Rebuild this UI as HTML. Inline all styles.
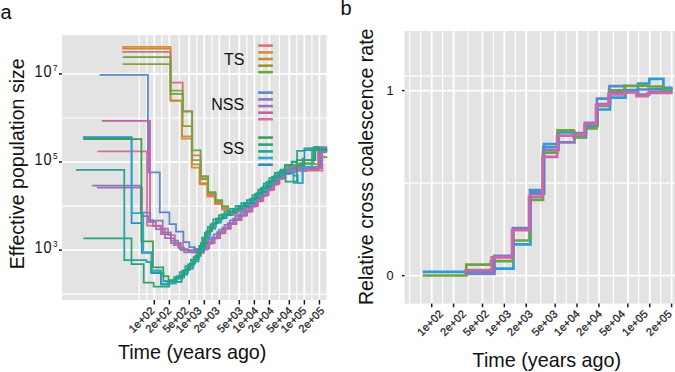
<!DOCTYPE html>
<html><head><meta charset="utf-8"><style>
html,body{margin:0;padding:0;background:#fff;width:675px;height:372px;overflow:hidden}
svg{display:block}
text{font-family:"Liberation Sans",sans-serif}
</style></head><body>
<svg width="675" height="372" viewBox="0 0 675 372">
<defs>
<clipPath id="ca"><rect x="62" y="35" width="265.2" height="265"/></clipPath>
<clipPath id="cb"><rect x="404.5" y="31" width="271.5" height="272.6"/></clipPath>
</defs>
<rect x="62" y="35" width="265.2" height="265" fill="#E3E3E3"/>
<g clip-path="url(#ca)">
<line x1="139.24" y1="35" x2="139.24" y2="300" stroke="#fff" stroke-width="1.15"/>
<line x1="146.77" y1="35" x2="146.77" y2="300" stroke="#fff" stroke-width="1.15"/>
<line x1="154.30" y1="35" x2="154.30" y2="300" stroke="#fff" stroke-width="1.15"/>
<line x1="161.83" y1="35" x2="161.83" y2="300" stroke="#fff" stroke-width="1.15"/>
<line x1="169.36" y1="35" x2="169.36" y2="300" stroke="#fff" stroke-width="1.15"/>
<line x1="179.31" y1="35" x2="179.31" y2="300" stroke="#fff" stroke-width="1.15"/>
<line x1="189.27" y1="35" x2="189.27" y2="300" stroke="#fff" stroke-width="1.15"/>
<line x1="196.80" y1="35" x2="196.80" y2="300" stroke="#fff" stroke-width="1.15"/>
<line x1="204.33" y1="35" x2="204.33" y2="300" stroke="#fff" stroke-width="1.15"/>
<line x1="211.86" y1="35" x2="211.86" y2="300" stroke="#fff" stroke-width="1.15"/>
<line x1="219.39" y1="35" x2="219.39" y2="300" stroke="#fff" stroke-width="1.15"/>
<line x1="229.35" y1="35" x2="229.35" y2="300" stroke="#fff" stroke-width="1.15"/>
<line x1="239.30" y1="35" x2="239.30" y2="300" stroke="#fff" stroke-width="1.15"/>
<line x1="246.83" y1="35" x2="246.83" y2="300" stroke="#fff" stroke-width="1.15"/>
<line x1="254.36" y1="35" x2="254.36" y2="300" stroke="#fff" stroke-width="1.15"/>
<line x1="261.89" y1="35" x2="261.89" y2="300" stroke="#fff" stroke-width="1.15"/>
<line x1="269.42" y1="35" x2="269.42" y2="300" stroke="#fff" stroke-width="1.15"/>
<line x1="279.38" y1="35" x2="279.38" y2="300" stroke="#fff" stroke-width="1.15"/>
<line x1="289.33" y1="35" x2="289.33" y2="300" stroke="#fff" stroke-width="1.15"/>
<line x1="296.86" y1="35" x2="296.86" y2="300" stroke="#fff" stroke-width="1.15"/>
<line x1="304.39" y1="35" x2="304.39" y2="300" stroke="#fff" stroke-width="1.15"/>
<line x1="311.92" y1="35" x2="311.92" y2="300" stroke="#fff" stroke-width="1.15"/>
<line x1="319.45" y1="35" x2="319.45" y2="300" stroke="#fff" stroke-width="1.15"/>
<line x1="326.98" y1="35" x2="326.98" y2="300" stroke="#fff" stroke-width="1.15"/>
<line x1="334.51" y1="35" x2="334.51" y2="300" stroke="#fff" stroke-width="1.15"/>
<line x1="62" y1="294.15" x2="327.2" y2="294.15" stroke="#fff" stroke-width="1.15"/>
<line x1="62" y1="206.05" x2="327.2" y2="206.05" stroke="#fff" stroke-width="1.15"/>
<line x1="62" y1="117.95" x2="327.2" y2="117.95" stroke="#fff" stroke-width="1.15"/>
<line x1="62" y1="250.10" x2="327.2" y2="250.10" stroke="#fff" stroke-width="1.75"/>
<line x1="62" y1="162.00" x2="327.2" y2="162.00" stroke="#fff" stroke-width="1.75"/>
<line x1="62" y1="73.90" x2="327.2" y2="73.90" stroke="#fff" stroke-width="1.75"/>
<line x1="154.30" y1="35" x2="154.30" y2="300" stroke="#fff" stroke-width="1.75"/>
<line x1="169.36" y1="35" x2="169.36" y2="300" stroke="#fff" stroke-width="1.75"/>
<line x1="189.27" y1="35" x2="189.27" y2="300" stroke="#fff" stroke-width="1.75"/>
<line x1="204.33" y1="35" x2="204.33" y2="300" stroke="#fff" stroke-width="1.75"/>
<line x1="219.39" y1="35" x2="219.39" y2="300" stroke="#fff" stroke-width="1.75"/>
<line x1="239.30" y1="35" x2="239.30" y2="300" stroke="#fff" stroke-width="1.75"/>
<line x1="254.36" y1="35" x2="254.36" y2="300" stroke="#fff" stroke-width="1.75"/>
<line x1="269.42" y1="35" x2="269.42" y2="300" stroke="#fff" stroke-width="1.75"/>
<line x1="289.33" y1="35" x2="289.33" y2="300" stroke="#fff" stroke-width="1.75"/>
<line x1="304.39" y1="35" x2="304.39" y2="300" stroke="#fff" stroke-width="1.75"/>
<line x1="319.45" y1="35" x2="319.45" y2="300" stroke="#fff" stroke-width="1.75"/>
<path d="M122.1 46.9H170.5V100.3H182.0V138.7H191.8V167.6H199.7V184.3H207.5V196.5H215.0V204.0H222.0V209.5H228.0V214.5H234.6V211.5H240.2V208.6H245.8V205.7H251.4V201.0H257.0V195.7H262.6V189.8H268.2V184.1H273.8V178.8H279.4V173.9H285.0V169.8H290.6V167.5H296.2V166.1H300.0V168.2H318.5V150.5H327.5" fill="none" stroke="#DE8A33" stroke-width="1.75"/>
<path d="M122.1 48.6H170.5V100.9H182.0V136.3H191.8V164.3H199.7V183.0H207.5V195.0H215.0V203.0H222.0V208.5H228.0V213.3H235.6V210.0H241.2V207.0H246.8V204.2H252.4V199.1H258.0V193.7H263.6V187.8H269.2V182.1H274.8V176.9H280.4V172.0H286.0V168.2H291.6V166.2H297.2V164.9H300.0V167.8H318.5V149.5H327.5" fill="none" stroke="#C68F2E" stroke-width="1.75"/>
<path d="M122.1 51.8H170.5V82.7H182.7V111.0H192.2V155.3H200.6V179.4H208.1V194.8H215.5V202.0H222.2V208.0H228.2V214.5H236.8V210.9H242.4V207.9H248.0V204.7H253.6V199.4H259.2V193.9H264.8V188.0H270.4V182.5H276.0V177.3H281.6V172.5H287.2V169.0H292.8V167.3H298.4V166.2H300.0V168.5H318.5V151.0H327.5" fill="none" stroke="#E07272" stroke-width="1.75"/>
<path d="M122.7 64.2H170.5V90.6H182.7V126.0H192.2V160.0H200.6V178.0H208.1V193.0H215.5V201.0H222.2V207.0H228.2V213.2H233.8V210.5H239.4V207.5H245.0V204.6H250.6V200.3H256.2V195.0H261.8V189.2H267.4V183.3H273.0V178.1H278.6V173.1H284.2V168.8H289.8V166.2H295.4V164.7H300.0V164.0H322.0V157.2H327.5" fill="none" stroke="#999A36" stroke-width="1.75"/>
<path d="M122.7 57.1H170.5V93.8H182.7V111.5H192.2V150.4H200.6V176.1H208.1V192.1H215.5V200.2H222.2V206.2H228.2V211.8H235.3V208.7H240.9V205.7H246.5V202.9H252.1V197.8H257.7V192.5H263.3V186.6H268.9V180.9H274.5V175.7H280.1V170.8H285.7V166.9H291.3V164.8H296.9V163.5H300.0V163.0H313.7V150.0H318.6V157.0H327.5" fill="none" stroke="#6AA63F" stroke-width="1.75"/>
<path d="M99.6 74.9H147.9V172.4H159.8V212.4H169.4V224.2H176.0V231.6H183.4V242.0H189.3V247.0H195.0V250.0H200.9V247.5H206.3V242.4H211.7V237.3H217.1V232.2H222.5V227.6H227.9V223.0H233.3V218.7H238.7V214.4H244.1V210.4H249.5V205.5H254.9V200.3H260.3V194.8H265.7V189.2H271.1V183.5H276.5V177.8H281.9V172.4H287.3V169.5H292.7V168.1H298.1V166.9H303.0V168.0H306.0V166.9H320.2V150.0H324.5V150.0H327.5" fill="none" stroke="#5C87C8" stroke-width="1.75"/>
<path d="M97.5 151.3H147.0V225.7H160.5V228.6H168.0V235.0H175.0V243.0H183.0V250.0H192.0V252.3H200.0V249.7H207.9V243.4H213.3V238.3H218.7V233.3H224.1V228.7H229.5V224.2H234.9V219.9H240.3V215.7H245.7V211.6H251.1V206.4H256.5V201.3H261.9V195.7H267.3V190.0H272.7V184.3H278.1V178.7H283.5V173.9H288.9V171.6H294.3V170.2H299.7V169.3H303.0V169.0H306.2V170.6H322.3V151.0H327.5" fill="none" stroke="#D86C9C" stroke-width="1.75"/>
<path d="M101.9 120.9H150.0V220.0H153.0V226.0H161.0V234.0H171.0V243.0H180.0V249.0H188.0V251.0H197.0V252.9H203.9V248.2H209.3V243.1H214.7V238.0H220.1V233.1H225.5V228.5H230.9V224.1H236.3V219.8H241.7V215.7H247.1V211.3H252.5V206.1H257.9V200.9H263.3V195.2H268.7V189.5H274.1V183.8H279.5V178.3H284.9V174.2H290.3V172.2H295.7V170.9H301.1V170.2H303.0V171.0H306.0V169.7H318.6V152.0H327.5" fill="none" stroke="#C262A0" stroke-width="1.75"/>
<path d="M92.1 185.5H140.6V212.5H150.2V220.5H162.7V232.3H170.8V240.5H178.2V247.8H184.1V252.3H194.0V248.9H202.9V244.6H208.3V239.6H213.7V234.4H219.1V229.5H224.5V224.9H229.9V220.4H235.3V216.1H240.7V211.9H246.1V207.7H251.5V202.6H256.9V197.4H262.3V191.7H267.7V186.1H273.1V180.3H278.5V174.8H283.9V170.2H289.3V168.0H294.7V166.6H300.1V165.8H303.0V167.0H306.0V166.9H320.2V147.0H327.5" fill="none" stroke="#8A78BC" stroke-width="1.75"/>
<path d="M97.0 187.6H141.9V216.0H148.5V222.0H156.0V229.0H165.0V238.0H174.0V245.0H181.0V250.0H190.0V250.7H195.4V251.0H200.8V248.6H206.2V243.5H211.6V238.4H217.0V233.3H222.4V228.7H227.8V224.1H233.2V219.8H238.6V215.5H244.0V211.5H249.4V206.6H254.8V201.4H260.2V196.0H265.6V190.3H271.0V184.6H276.4V178.9H281.8V173.5H287.2V170.5H292.6V169.2H298.0V167.9H303.0V169.0H306.0V168.0H321.8V148.0H327.5" fill="none" stroke="#A070B8" stroke-width="1.75"/>
<path d="M148.8 121.5V172.3" fill="none" stroke="#A070B8" stroke-width="2.2"/>
<path d="M83.0 137.1H131.6V223.2H141.8V252.8H151.5V273.0H163.4V281.0H172.0V281.8H181.6V274.6H187.2V268.5H192.8V261.4H198.4V250.8H204.0V237.8H209.6V228.5H215.2V222.5H220.8V218.1H226.4V215.0H232.0V212.4H237.6V209.4H243.2V206.5H248.8V203.0H254.4V197.7H260.0V192.1H265.6V186.2H271.2V180.8H276.8V175.8H282.0V173.0H293.5V175.6H297.7V182.9H302.6V158.7H304.4V150.0H316.0V149.0H327.5" fill="none" stroke="#2A8FC6" stroke-width="1.75"/>
<path d="M83.0 138.7H131.6V213.1H143.2V252.1H151.8V270.3H161.0V283.6H175.8V278.8H182.4V272.8H188.0V266.6H193.6V259.2H199.2V248.0H204.8V234.9H210.4V226.5H216.0V220.9H221.6V216.5H227.2V213.7H232.8V211.0H238.4V208.0H244.0V205.1H249.6V201.2H255.2V195.9H260.8V190.2H266.4V184.3H272.0V179.0H277.6V174.5H282.0V172.0H293.5V182.9H302.6V167.0H312.0V148.0H323.5V151.0H327.5" fill="none" stroke="#28A8D0" stroke-width="1.75"/>
<path d="M83.5 139.0H141.4V241.4H153.0V267.3H163.3V276.2H168.5V280.0H175.0V277.4H184.1V270.1H189.7V263.6H195.3V255.8H200.9V243.0H206.5V231.1H212.1V223.4H217.7V218.6H223.3V214.5H228.9V211.9H234.5V209.1H240.1V206.1H245.7V203.3H251.3V198.6H256.9V193.3H262.5V187.4H268.1V181.7H273.7V176.4H279.3V172.7H282.0V172.0H285.0V165.0H291.7V162.0H297.1V160.0H304.0V160.0H313.7V147.2H318.6V149.0H327.5" fill="none" stroke="#3A9F4E" stroke-width="1.75"/>
<path d="M83.5 238.4H131.5V264.2H143.7V282.5H153.7V286.6H169.2V281.9H176.8V276.2H182.4V270.6H188.0V264.4H193.6V257.0H199.2V245.8H204.8V232.7H210.4V224.3H216.0V218.7H221.6V214.3H227.2V211.5H232.8V208.8H238.4V205.8H244.0V202.9H249.6V199.0H255.2V193.7H260.8V188.0H266.4V182.1H272.0V176.8H277.6V172.3H282.0V170.0H285.5V181.7H297.0V165.0H304.4V160.0H315.4V147.0H318.6V150.0H327.5" fill="none" stroke="#2CA274" stroke-width="1.75"/>
<path d="M76.0 169.9H124.3V260.2H146.5V262.0H151.0V272.0H161.0V284.5H168.0V281.6H174.1V277.2H179.7V272.0H185.3V266.2H190.9V259.5H196.5V250.6H202.1V237.7H207.7V226.8H213.3V219.4H218.9V215.1H224.5V211.4H230.1V208.8H235.7V205.9H241.3V203.0H246.9V200.2H252.5V195.0H258.1V189.6H263.7V183.7H269.3V178.0H274.9V172.8H280.5V169.7H282.0V170.0H285.0V164.8H291.7V161.7H297.1V150.9H304.4V148.4H316.0V150.0H327.5" fill="none" stroke="#22A596" stroke-width="1.75"/>
</g>
<line x1="154.30" y1="300" x2="154.30" y2="304.5" stroke="#1a1a1a" stroke-width="1.5"/>
<text transform="translate(155.30,311.5) rotate(-45)" text-anchor="end" font-size="11.1" fill="#222" stroke="#222" stroke-width="0.25">1e+02</text>
<line x1="169.36" y1="300" x2="169.36" y2="304.5" stroke="#1a1a1a" stroke-width="1.5"/>
<text transform="translate(172.10,311.5) rotate(-45)" text-anchor="end" font-size="11.1" fill="#222" stroke="#222" stroke-width="0.25">2e+02</text>
<line x1="189.27" y1="300" x2="189.27" y2="304.5" stroke="#1a1a1a" stroke-width="1.5"/>
<text transform="translate(189.20,311.5) rotate(-45)" text-anchor="end" font-size="11.1" fill="#222" stroke="#222" stroke-width="0.25">5e+02</text>
<line x1="204.33" y1="300" x2="204.33" y2="304.5" stroke="#1a1a1a" stroke-width="1.5"/>
<text transform="translate(202.40,311.5) rotate(-45)" text-anchor="end" font-size="11.1" fill="#222" stroke="#222" stroke-width="0.25">1e+03</text>
<line x1="219.39" y1="300" x2="219.39" y2="304.5" stroke="#1a1a1a" stroke-width="1.5"/>
<text transform="translate(220.30,311.5) rotate(-45)" text-anchor="end" font-size="11.1" fill="#222" stroke="#222" stroke-width="0.25">2e+03</text>
<line x1="239.30" y1="300" x2="239.30" y2="304.5" stroke="#1a1a1a" stroke-width="1.5"/>
<text transform="translate(243.60,311.5) rotate(-45)" text-anchor="end" font-size="11.1" fill="#222" stroke="#222" stroke-width="0.25">5e+03</text>
<line x1="254.36" y1="300" x2="254.36" y2="304.5" stroke="#1a1a1a" stroke-width="1.5"/>
<text transform="translate(259.10,311.5) rotate(-45)" text-anchor="end" font-size="11.1" fill="#222" stroke="#222" stroke-width="0.25">1e+04</text>
<line x1="269.42" y1="300" x2="269.42" y2="304.5" stroke="#1a1a1a" stroke-width="1.5"/>
<text transform="translate(274.60,311.5) rotate(-45)" text-anchor="end" font-size="11.1" fill="#222" stroke="#222" stroke-width="0.25">2e+04</text>
<line x1="289.33" y1="300" x2="289.33" y2="304.5" stroke="#1a1a1a" stroke-width="1.5"/>
<text transform="translate(293.00,311.5) rotate(-45)" text-anchor="end" font-size="11.1" fill="#222" stroke="#222" stroke-width="0.25">5e+04</text>
<line x1="304.39" y1="300" x2="304.39" y2="304.5" stroke="#1a1a1a" stroke-width="1.5"/>
<text transform="translate(307.20,311.5) rotate(-45)" text-anchor="end" font-size="11.1" fill="#222" stroke="#222" stroke-width="0.25">1e+05</text>
<line x1="319.45" y1="300" x2="319.45" y2="304.5" stroke="#1a1a1a" stroke-width="1.5"/>
<text transform="translate(325.10,311.5) rotate(-45)" text-anchor="end" font-size="11.1" fill="#222" stroke="#222" stroke-width="0.25">2e+05</text>
<line x1="59" y1="250.10" x2="62" y2="250.10" stroke="#1a1a1a" stroke-width="1.5"/>
<text transform="translate(34.6,253.00) scale(0.84,1)" font-size="17.3" fill="#111" letter-spacing="0.9">10<tspan font-size="9.6" letter-spacing="0" dx="0.9" dy="-5.6">3</tspan></text>
<line x1="59" y1="162.00" x2="62" y2="162.00" stroke="#1a1a1a" stroke-width="1.5"/>
<text transform="translate(34.6,164.90) scale(0.84,1)" font-size="17.3" fill="#111" letter-spacing="0.9">10<tspan font-size="9.6" letter-spacing="0" dx="0.9" dy="-5.6">5</tspan></text>
<line x1="59" y1="73.90" x2="62" y2="73.90" stroke="#1a1a1a" stroke-width="1.5"/>
<text transform="translate(34.6,76.80) scale(0.84,1)" font-size="17.3" fill="#111" letter-spacing="0.9">10<tspan font-size="9.6" letter-spacing="0" dx="0.9" dy="-5.6">7</tspan></text>
<rect x="404.5" y="31" width="271.5" height="272.6" fill="#E3E3E3"/>
<g clip-path="url(#cb)">
<line x1="409.82" y1="31" x2="409.82" y2="303.6" stroke="#fff" stroke-width="1.15"/>
<line x1="420.76" y1="31" x2="420.76" y2="303.6" stroke="#fff" stroke-width="1.15"/>
<line x1="431.70" y1="31" x2="431.70" y2="303.6" stroke="#fff" stroke-width="1.15"/>
<line x1="442.64" y1="31" x2="442.64" y2="303.6" stroke="#fff" stroke-width="1.15"/>
<line x1="453.58" y1="31" x2="453.58" y2="303.6" stroke="#fff" stroke-width="1.15"/>
<line x1="468.03" y1="31" x2="468.03" y2="303.6" stroke="#fff" stroke-width="1.15"/>
<line x1="482.49" y1="31" x2="482.49" y2="303.6" stroke="#fff" stroke-width="1.15"/>
<line x1="493.43" y1="31" x2="493.43" y2="303.6" stroke="#fff" stroke-width="1.15"/>
<line x1="504.37" y1="31" x2="504.37" y2="303.6" stroke="#fff" stroke-width="1.15"/>
<line x1="515.31" y1="31" x2="515.31" y2="303.6" stroke="#fff" stroke-width="1.15"/>
<line x1="526.25" y1="31" x2="526.25" y2="303.6" stroke="#fff" stroke-width="1.15"/>
<line x1="540.70" y1="31" x2="540.70" y2="303.6" stroke="#fff" stroke-width="1.15"/>
<line x1="555.16" y1="31" x2="555.16" y2="303.6" stroke="#fff" stroke-width="1.15"/>
<line x1="566.10" y1="31" x2="566.10" y2="303.6" stroke="#fff" stroke-width="1.15"/>
<line x1="577.04" y1="31" x2="577.04" y2="303.6" stroke="#fff" stroke-width="1.15"/>
<line x1="587.98" y1="31" x2="587.98" y2="303.6" stroke="#fff" stroke-width="1.15"/>
<line x1="598.92" y1="31" x2="598.92" y2="303.6" stroke="#fff" stroke-width="1.15"/>
<line x1="613.38" y1="31" x2="613.38" y2="303.6" stroke="#fff" stroke-width="1.15"/>
<line x1="627.83" y1="31" x2="627.83" y2="303.6" stroke="#fff" stroke-width="1.15"/>
<line x1="638.77" y1="31" x2="638.77" y2="303.6" stroke="#fff" stroke-width="1.15"/>
<line x1="649.71" y1="31" x2="649.71" y2="303.6" stroke="#fff" stroke-width="1.15"/>
<line x1="660.65" y1="31" x2="660.65" y2="303.6" stroke="#fff" stroke-width="1.15"/>
<line x1="671.59" y1="31" x2="671.59" y2="303.6" stroke="#fff" stroke-width="1.15"/>
<line x1="682.52" y1="31" x2="682.52" y2="303.6" stroke="#fff" stroke-width="1.15"/>
<line x1="693.46" y1="31" x2="693.46" y2="303.6" stroke="#fff" stroke-width="1.15"/>
<line x1="404.5" y1="183.15" x2="676" y2="183.15" stroke="#fff" stroke-width="1.15"/>
<line x1="404.5" y1="76.16" x2="676" y2="76.16" stroke="#fff" stroke-width="1.15"/>
<line x1="404.5" y1="275.70" x2="676" y2="275.70" stroke="#fff" stroke-width="1.75"/>
<line x1="404.5" y1="90.60" x2="676" y2="90.60" stroke="#fff" stroke-width="1.75"/>
<line x1="431.70" y1="31" x2="431.70" y2="303.6" stroke="#fff" stroke-width="1.75"/>
<line x1="453.58" y1="31" x2="453.58" y2="303.6" stroke="#fff" stroke-width="1.75"/>
<line x1="482.49" y1="31" x2="482.49" y2="303.6" stroke="#fff" stroke-width="1.75"/>
<line x1="504.37" y1="31" x2="504.37" y2="303.6" stroke="#fff" stroke-width="1.75"/>
<line x1="526.25" y1="31" x2="526.25" y2="303.6" stroke="#fff" stroke-width="1.75"/>
<line x1="555.16" y1="31" x2="555.16" y2="303.6" stroke="#fff" stroke-width="1.75"/>
<line x1="577.04" y1="31" x2="577.04" y2="303.6" stroke="#fff" stroke-width="1.75"/>
<line x1="598.92" y1="31" x2="598.92" y2="303.6" stroke="#fff" stroke-width="1.75"/>
<line x1="627.83" y1="31" x2="627.83" y2="303.6" stroke="#fff" stroke-width="1.75"/>
<line x1="649.71" y1="31" x2="649.71" y2="303.6" stroke="#fff" stroke-width="1.75"/>
<line x1="671.59" y1="31" x2="671.59" y2="303.6" stroke="#fff" stroke-width="1.75"/>
<path d="M464.6 272.6H494.0V256.8H513.0V228.2H530.0V190.2H543.5V147.2H558.0V131.0H574.0V133.0H585.5V122.8H597.0V98.7H609.5V86.2H625.0V90.0H637.5V89.5H648.9V89.3H662.9V89.6H672.6" fill="none" stroke="#5C87C8" stroke-width="2.7"/>
<path d="M422.7 271.8H465.6V271.0H494.5V268.7H513.5V244.3H530.5V192.4H544.0V144.0H558.5V132.5H574.5V137.5H586.0V126.0H597.5V109.5H610.0V97.6H625.5V90.5H638.0V83.5H649.4V78.9H663.4V87.8H672.6" fill="none" stroke="#2E9AD8" stroke-width="2.7"/>
<path d="M422.7 275.5H466.3V264.6H490.8V261.2H512.5V240.5H529.5V199.9H543.0V152.6H557.5V130.3H573.5V137.0H585.0V128.3H596.5V106.0H609.0V90.4H624.5V85.8H637.0V85.6H648.4V86.5H662.4V90.2H672.6" fill="none" stroke="#6AA63F" stroke-width="2.7"/>
<path d="M464.6 274.0H494.5V255.9H513.5V228.8H530.5V194.0H544.0V150.0H558.5V142.4H574.5V134.5H586.0V123.6H597.5V104.0H610.0V92.0H625.5V92.5H638.0V94.5H649.4V92.1H663.4V92.0H672.6" fill="none" stroke="#8A78BC" stroke-width="2.7"/>
<path d="M464.6 270.2H491.7V257.4H512.0V230.1H529.0V196.8H542.5V156.9H557.0V135.7H573.0V134.3H584.5V123.6H596.0V105.2H608.5V94.4H624.0V92.3H636.5V96.2H647.9V93.0H661.9V93.0H672.6" fill="none" stroke="#CC68AA" stroke-width="2.7"/>
</g>
<line x1="431.70" y1="303.6" x2="431.70" y2="307.3" stroke="#1a1a1a" stroke-width="1.5"/>
<text transform="translate(443.80,314.6) rotate(-45)" text-anchor="end" font-size="11.1" fill="#222" stroke="#222" stroke-width="0.25">1e+02</text>
<line x1="453.58" y1="303.6" x2="453.58" y2="307.3" stroke="#1a1a1a" stroke-width="1.5"/>
<text transform="translate(466.80,314.6) rotate(-45)" text-anchor="end" font-size="11.1" fill="#222" stroke="#222" stroke-width="0.25">2e+02</text>
<line x1="482.49" y1="303.6" x2="482.49" y2="307.3" stroke="#1a1a1a" stroke-width="1.5"/>
<text transform="translate(489.60,314.6) rotate(-45)" text-anchor="end" font-size="11.1" fill="#222" stroke="#222" stroke-width="0.25">5e+02</text>
<line x1="504.37" y1="303.6" x2="504.37" y2="307.3" stroke="#1a1a1a" stroke-width="1.5"/>
<text transform="translate(511.80,314.6) rotate(-45)" text-anchor="end" font-size="11.1" fill="#222" stroke="#222" stroke-width="0.25">1e+03</text>
<line x1="526.25" y1="303.6" x2="526.25" y2="307.3" stroke="#1a1a1a" stroke-width="1.5"/>
<text transform="translate(533.60,314.6) rotate(-45)" text-anchor="end" font-size="11.1" fill="#222" stroke="#222" stroke-width="0.25">2e+03</text>
<line x1="555.16" y1="303.6" x2="555.16" y2="307.3" stroke="#1a1a1a" stroke-width="1.5"/>
<text transform="translate(558.30,314.6) rotate(-45)" text-anchor="end" font-size="11.1" fill="#222" stroke="#222" stroke-width="0.25">5e+03</text>
<line x1="577.04" y1="303.6" x2="577.04" y2="307.3" stroke="#1a1a1a" stroke-width="1.5"/>
<text transform="translate(580.60,314.6) rotate(-45)" text-anchor="end" font-size="11.1" fill="#222" stroke="#222" stroke-width="0.25">1e+04</text>
<line x1="598.92" y1="303.6" x2="598.92" y2="307.3" stroke="#1a1a1a" stroke-width="1.5"/>
<text transform="translate(602.80,314.6) rotate(-45)" text-anchor="end" font-size="11.1" fill="#222" stroke="#222" stroke-width="0.25">2e+04</text>
<line x1="627.83" y1="303.6" x2="627.83" y2="307.3" stroke="#1a1a1a" stroke-width="1.5"/>
<text transform="translate(625.80,314.6) rotate(-45)" text-anchor="end" font-size="11.1" fill="#222" stroke="#222" stroke-width="0.25">5e+04</text>
<line x1="649.71" y1="303.6" x2="649.71" y2="307.3" stroke="#1a1a1a" stroke-width="1.5"/>
<text transform="translate(648.50,314.6) rotate(-45)" text-anchor="end" font-size="11.1" fill="#222" stroke="#222" stroke-width="0.25">1e+05</text>
<line x1="671.59" y1="303.6" x2="671.59" y2="307.3" stroke="#1a1a1a" stroke-width="1.5"/>
<text transform="translate(672.60,314.6) rotate(-45)" text-anchor="end" font-size="11.1" fill="#222" stroke="#222" stroke-width="0.25">2e+05</text>
<line x1="402.0" y1="275.70" x2="404.5" y2="275.70" stroke="#1a1a1a" stroke-width="1.5"/>
<text x="393.5" y="280.20" text-anchor="end" font-size="12.8" fill="#111">0</text>
<line x1="402.0" y1="90.60" x2="404.5" y2="90.60" stroke="#1a1a1a" stroke-width="1.5"/>
<text x="393.5" y="95.10" text-anchor="end" font-size="12.8" fill="#111">1</text>
<text x="0.4" y="18.6" font-size="20" fill="#111">a</text>
<text x="340.6" y="15.2" font-size="20" fill="#111">b</text>
<text x="117.9" y="359.2" font-size="19.75" fill="#111">Time (years ago)</text>
<text x="472.6" y="366.5" font-size="19.75" fill="#111">Time (years ago)</text>
<text transform="translate(23.6,269.2) rotate(-90)" font-size="19.6" fill="#111">Effective population size</text>
<text transform="translate(372.9,305.1) rotate(-90)" font-size="19.6" fill="#111">Relative cross coalescence rate</text>
<line x1="258.1" y1="45.6" x2="272.9" y2="45.6" stroke="#E07272" stroke-width="2.6"/>
<line x1="258.1" y1="52.4" x2="272.9" y2="52.4" stroke="#DE8A33" stroke-width="2.6"/>
<line x1="258.1" y1="59.0" x2="272.9" y2="59.0" stroke="#C68F2E" stroke-width="2.6"/>
<line x1="258.1" y1="65.7" x2="272.9" y2="65.7" stroke="#999A36" stroke-width="2.6"/>
<line x1="258.1" y1="72.2" x2="272.9" y2="72.2" stroke="#6AA63F" stroke-width="2.6"/>
<line x1="258.1" y1="92.6" x2="272.9" y2="92.6" stroke="#5C87C8" stroke-width="2.6"/>
<line x1="258.1" y1="99.4" x2="272.9" y2="99.4" stroke="#8A78BC" stroke-width="2.6"/>
<line x1="258.1" y1="106.1" x2="272.9" y2="106.1" stroke="#A070B8" stroke-width="2.6"/>
<line x1="258.1" y1="112.7" x2="272.9" y2="112.7" stroke="#C262A0" stroke-width="2.6"/>
<line x1="258.1" y1="119.2" x2="272.9" y2="119.2" stroke="#D86C9C" stroke-width="2.6"/>
<line x1="258.1" y1="137.6" x2="272.9" y2="137.6" stroke="#3A9F4E" stroke-width="2.6"/>
<line x1="258.1" y1="144.6" x2="272.9" y2="144.6" stroke="#2CA274" stroke-width="2.6"/>
<line x1="258.1" y1="151.4" x2="272.9" y2="151.4" stroke="#22A596" stroke-width="2.6"/>
<line x1="258.1" y1="158.0" x2="272.9" y2="158.0" stroke="#28A8D0" stroke-width="2.6"/>
<line x1="258.1" y1="164.7" x2="272.9" y2="164.7" stroke="#2A8FC6" stroke-width="2.6"/>
<text x="224" y="64.8" font-size="16" fill="#111">TS</text>
<text x="211.3" y="109.8" font-size="16" fill="#111">NSS</text>
<text x="222.8" y="154.3" font-size="16" fill="#111">SS</text>
</svg>
</body></html>
